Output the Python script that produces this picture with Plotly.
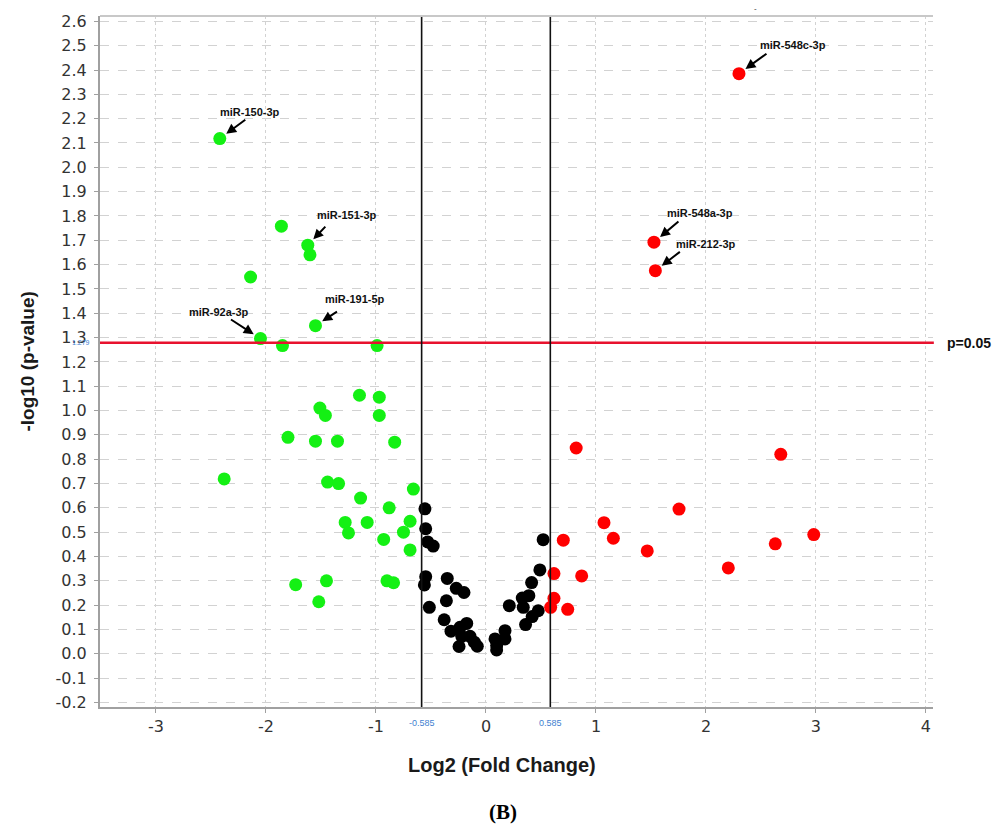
import plotly.graph_objects as go

# ---------------- data ----------------
green_x = [-2.42, -1.86, -1.62, -1.60, -2.14, -1.55, -2.05, -1.85, -0.99, -1.15,
           -0.97, -1.51, -1.46, -0.97, -1.80, -1.55, -1.35, -0.83, -2.38, -1.44,
           -1.34, -0.66, -1.14, -0.88, -1.28, -1.08, -0.69, -1.25, -0.75, -0.93,
           -0.69, -1.73, -1.45, -0.90, -0.84, -1.52]
green_y = [2.118, 1.758, 1.680, 1.640, 1.549, 1.349, 1.296, 1.267, 1.267, 1.063,
           1.055, 1.010, 0.980, 0.980, 0.890, 0.874, 0.874, 0.870, 0.719, 0.706,
           0.700, 0.677, 0.640, 0.600, 0.540, 0.540, 0.545, 0.497, 0.500, 0.470,
           0.427, 0.284, 0.300, 0.300, 0.292, 0.214]

black_x = [-0.555, -0.548, -0.53, -0.48, -0.548, -0.56, -0.352, -0.27, -0.20, -0.515,
           -0.36, -0.38, -0.318, -0.236, -0.175, -0.22, -0.145, -0.245, -0.106, -0.079,
           0.082, 0.097, 0.097, 0.173, 0.173, 0.212, 0.339, 0.33, 0.39, 0.415,
           0.49, 0.52, 0.42, 0.475, 0.36]
black_y = [0.596, 0.514, 0.460, 0.443, 0.317, 0.283, 0.310, 0.269, 0.252, 0.191,
           0.218, 0.140, 0.093, 0.109, 0.125, 0.072, 0.072, 0.030, 0.048, 0.031,
           0.061, 0.034, 0.016, 0.061, 0.095, 0.198, 0.191, 0.229, 0.239, 0.293,
           0.345, 0.469, 0.153, 0.177, 0.120]

red_x = [2.30, 1.527, 1.54, 0.82, 2.68, 1.755, 1.073, 0.703, 1.158, 1.466,
         2.98, 2.63, 2.203, 0.618, 0.87, 0.618, 0.588, 0.743]
red_y = [2.385, 1.692, 1.575, 0.846, 0.820, 0.595, 0.539, 0.467, 0.475, 0.423,
         0.490, 0.452, 0.353, 0.330, 0.320, 0.228, 0.191, 0.183]

# labelled miRNAs: name, group, index into that group's arrays
label_names = ["miR-150-3p", "miR-151-3p", "miR-191-5p", "miR-92a-3p",
               "miR-548c-3p", "miR-548a-3p", "miR-212-3p"]
label_group = ["green", "green", "green", "green", "red", "red", "red"]
label_index = [0, 2, 5, 6, 0, 1, 2]

fc_threshold = 0.585
p_threshold = 1.279

x_ticks = [-3, -2, -1, 0, 1, 2, 3, 4]
y_ticks = [round(-0.2 + 0.1 * i, 1) for i in range(29)]

# ---------------- figure ----------------
fig = go.Figure()
marker_size = 13
fig.add_trace(go.Scatter(x=green_x, y=green_y, mode="markers",
                         marker=dict(color="#14f014", size=marker_size, line=dict(width=0)),
                         showlegend=False, hoverinfo="skip"))
fig.add_trace(go.Scatter(x=black_x, y=black_y, mode="markers",
                         marker=dict(color="#000000", size=marker_size, line=dict(width=0)),
                         showlegend=False, hoverinfo="skip"))
fig.add_trace(go.Scatter(x=red_x, y=red_y, mode="markers",
                         marker=dict(color="#ff0000", size=marker_size, line=dict(width=0)),
                         showlegend=False, hoverinfo="skip"))

# threshold lines
fig.add_shape(type="line", xref="paper", yref="y", x0=0, x1=1.001, y0=p_threshold, y1=p_threshold,
              line=dict(color="#e8122e", width=2.6))
for v in (-fc_threshold, fc_threshold):
    fig.add_shape(type="line", xref="x", yref="paper", x0=v, x1=v, y0=0, y1=1,
                  line=dict(color="#111111", width=1.6))
# top border
fig.add_shape(type="line", xref="paper", yref="paper", x0=0, x1=1, y0=1, y1=1,
              line=dict(color="#c8c8c8", width=2))

# arrow / text offsets (pixels) for the labels
arrow_ax = [27, 19, 23, -31, 29, 26, 26]
arrow_ay = [-20, -20, -15, -20, -21, -22, -20]
text_dx = [30, 39, 40, -41, 54, 46, 51]
text_dy = [27, 30, 27, 27, 29, 29, 27]

groups = {"green": (green_x, green_y), "red": (red_x, red_y)}
for name, g, i, ax, ay, dx, dy in zip(label_names, label_group, label_index,
                                      arrow_ax, arrow_ay, text_dx, text_dy):
    px, py = groups[g][0][i], groups[g][1][i]
    fig.add_annotation(x=px, y=py, xref="x", yref="y", text="", showarrow=True,
                       ax=ax, ay=ay, arrowhead=2, arrowsize=1, arrowwidth=2,
                       arrowcolor="#000000", standoff=8)
    fig.add_annotation(x=px, y=py, xref="x", yref="y", text="<b>" + name + "</b>",
                       showarrow=False, xanchor="center", yanchor="middle",
                       xshift=dx, yshift=dy,
                       font=dict(family="Liberation Sans", size=11, color="#111111"))

C = dict(xanchor="center", yanchor="middle", showarrow=False)
# text labels
fig.add_annotation(x=1.0144, y=p_threshold, xref="paper", yref="y", text="<b>p=0.05</b>",
                   showarrow=False, xanchor="left", yanchor="middle",
                   font=dict(family="Liberation Sans", size=14, color="#111111"))
fig.add_annotation(x=-0.0228, y=p_threshold, xref="paper", yref="y", text=str(p_threshold),
                   font=dict(family="Liberation Sans", size=7, color="#3f7fd0"), **C)
for v in (-fc_threshold, fc_threshold):
    fig.add_annotation(x=v, y=-0.023, xref="x", yref="paper", text=f"{v:g}",
                       font=dict(family="Liberation Sans", size=9, color="#3f7fd0"), **C)
fig.add_annotation(x=0.4826, y=-0.0836, xref="paper", yref="paper",
                   text="<b>Log2 (Fold Change)</b>",
                   font=dict(family="Liberation Sans", size=20, color="#1a1a1a"), **C)
fig.add_annotation(x=-0.0876, y=0.5, xref="paper", yref="paper",
                   text="<b>-log10 (p-value)</b>", textangle=-90,
                   font=dict(family="Liberation Sans", size=19, color="#1a1a1a"), **C)
fig.add_annotation(x=0.4838, y=-0.1513, xref="paper", yref="paper",
                   text="<b>(B)</b>",
                   font=dict(family="Liberation Serif", size=21, color="#000000"), **C)
fig.add_annotation(x=0.7875, y=1.0115, xref="paper", yref="paper",
                   text="-",
                   font=dict(family="Liberation Sans", size=8, color="#333333"), **C)

fig.update_layout(
    width=1001, height=831,
    margin=dict(l=100, r=68, t=13, b=124),
    paper_bgcolor="white", plot_bgcolor="white",
    xaxis=dict(range=[-3.509, 4.064], tickvals=x_ticks, ticktext=[str(t) for t in x_ticks],
               showgrid=True, gridcolor="#d2d2d2", gridwidth=1, griddash="dot",
               zeroline=False, showline=True, linecolor="#a0a0a0", linewidth=2,
               ticks="outside", ticklen=4, tickcolor="#a0a0a0",
               tickfont=dict(family="DejaVu Sans", size=16, color="#333333")),
    yaxis=dict(range=[-0.2187, 2.622], tickvals=y_ticks, ticktext=[f"{t:.1f}" for t in y_ticks],
               showgrid=True, gridcolor="#d2d2d2", gridwidth=1, griddash="dash",
               zeroline=False, showline=True, linecolor="#a0a0a0", linewidth=2,
               ticks="outside", ticklen=4, tickcolor="#a0a0a0", ticklabelstandoff=4,
               tickfont=dict(family="DejaVu Sans", size=16, color="#333333")),
)

fig.write_html("out.html")
